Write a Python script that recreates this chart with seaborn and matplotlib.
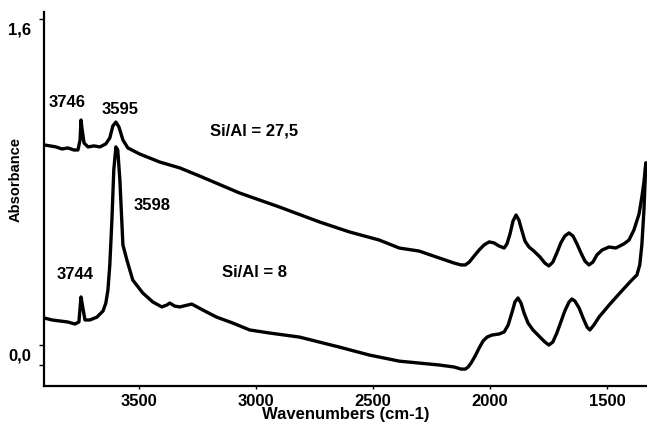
import numpy as np
import pandas as pd
import matplotlib
matplotlib.use("Agg")
import matplotlib.pyplot as plt
import matplotlib.transforms as mtransforms
import seaborn as sns

# ---- data ----
wn_high = [3905, 3879, 3854, 3828, 3803, 3777, 3760, 3751, 3747, 3743, 3734, 3717,
           3692, 3666, 3641, 3624, 3611, 3598, 3585, 3568, 3547, 3518, 3496, 3411, 3325,
           3240, 3070, 2899, 2729, 2601, 2473, 2388, 2303, 2217, 2153, 2124, 2106, 2089,
           2068, 2047, 2026, 2004, 1983, 1962, 1940, 1928, 1915, 1902, 1889, 1877, 1864,
           1851, 1834, 1813, 1787, 1766, 1749, 1732, 1715, 1698, 1681, 1663, 1646, 1629,
           1612, 1595, 1578, 1561, 1544, 1522, 1492, 1463, 1429, 1407, 1386, 1364, 1352,
           1343, 1335]
abs_high = [0.982, 0.977, 0.972, 0.962, 0.967, 0.957, 0.957, 1.006, 1.104, 1.065, 0.991, 0.972,
            0.977, 0.972, 0.987, 1.016, 1.075, 1.094, 1.070, 1.006, 0.967, 0.950, 0.937, 0.898, 0.869,
            0.829, 0.746, 0.677, 0.604, 0.555, 0.515, 0.476, 0.461, 0.427, 0.402, 0.393, 0.393, 0.407,
            0.437, 0.466, 0.491, 0.506, 0.501, 0.486, 0.476, 0.496, 0.545, 0.609, 0.638, 0.613, 0.560,
            0.510, 0.481, 0.461, 0.432, 0.402, 0.388, 0.407, 0.452, 0.501, 0.535, 0.550, 0.535, 0.496,
            0.452, 0.412, 0.393, 0.407, 0.442, 0.466, 0.481, 0.476, 0.496, 0.515, 0.564, 0.643, 0.726,
            0.800, 0.893]

wn_low = [3905, 3871, 3837, 3803, 3773, 3756, 3747, 3739, 3730, 3709, 3679, 3653,
          3641, 3632, 3624, 3615, 3607, 3598, 3590, 3581, 3568, 3551, 3526, 3483,
          3440, 3402, 3381, 3368, 3347, 3325, 3274, 3227, 3168, 3099, 3027, 2942,
          2814, 2644, 2516, 2388, 2217, 2153, 2124, 2106, 2094, 2081, 2064, 2047,
          2030, 2013, 1992, 1962, 1940, 1923, 1906, 1894, 1881, 1868, 1855, 1838,
          1817, 1787, 1766, 1749, 1732, 1715, 1698, 1681, 1663, 1651, 1638, 1620,
          1603, 1586, 1574, 1557, 1535, 1492, 1450, 1399, 1373, 1361, 1352, 1343, 1335]
abs_low = [0.133, 0.123, 0.118, 0.113, 0.103, 0.113, 0.236, 0.182, 0.123, 0.123, 0.137, 0.167,
           0.206, 0.270, 0.393, 0.614, 0.859, 0.972, 0.957, 0.810, 0.491, 0.417, 0.319, 0.255,
           0.211, 0.187, 0.196, 0.206, 0.191, 0.187, 0.201, 0.172, 0.137, 0.108, 0.074, 0.059,
           0.039, -0.010, -0.049, -0.079, -0.098, -0.108, -0.118, -0.118, -0.108, -0.088, -0.054, -0.015,
           0.020, 0.039, 0.049, 0.054, 0.064, 0.098, 0.162, 0.211, 0.231, 0.206, 0.157, 0.108,
           0.074, 0.039, 0.015, 0.000, 0.015, 0.059, 0.113, 0.167, 0.211, 0.226, 0.216, 0.182,
           0.133, 0.088, 0.074, 0.098, 0.137, 0.196, 0.250, 0.314, 0.344, 0.393, 0.491, 0.663, 0.893]

series_names = ["Si/Al = 27,5", "Si/Al = 8"]
peak_labels = ["3746", "3595", "3598", "3744"]
y_tick_values = [0.0, 1.6]
y_tick_labels = ["0,0", "1,6"]
x_tick_values = [3500, 3000, 2500, 2000, 1500]

df = pd.concat([
    pd.DataFrame({"wn": wn_high, "A": abs_high, "sample": series_names[0]}),
    pd.DataFrame({"wn": wn_low, "A": abs_low, "sample": series_names[1]}),
], ignore_index=True)

sns.set_style("ticks")
plt.rcParams["font.family"] = ["Liberation Sans", "DejaVu Sans"]
plt.rcParams["font.weight"] = "bold"

fig = plt.figure(figsize=(6.47, 4.23), dpi=100)
ax = fig.add_axes([44 / 647, 1 - 386 / 423, (647 - 44) / 647, (386 - 12) / 423])

sns.lineplot(data=df, x="wn", y="A", hue="sample", units="sample", estimator=None,
             palette=["black", "black"], linewidth=2.4, legend=False, ax=ax,
             solid_joinstyle="round", solid_capstyle="round")

ax.set_xlim(3905, 1330)
ax.set_ylim(-0.201, 1.634)

for s in ["top", "right"]:
    ax.spines[s].set_visible(False)
for s in ["left", "bottom"]:
    ax.spines[s].set_linewidth(1.6)
    ax.spines[s].set_color("black")

ax.set_xticks(x_tick_values)
ax.set_xticklabels([str(v) for v in x_tick_values], fontsize=12, fontweight="bold")
ax.set_yticks(y_tick_values + [-0.1])
ax.set_yticklabels(y_tick_labels + [""], fontsize=12, fontweight="bold")
ax.tick_params(axis="x", length=2.5, width=1, pad=3, colors="black")
ax.tick_params(axis="y", length=3.5, width=1, pad=6, colors="black")

offset = mtransforms.ScaledTranslation(0, -0.095, fig.dpi_scale_trans)
for lab in ax.get_yticklabels():
    lab.set_transform(lab.get_transform() + offset)

ax.set_xlabel("Wavenumbers (cm-1)", fontsize=12, fontweight="bold", labelpad=-1, color="black")
ax.set_ylabel("Absorbance", fontsize=10.5, fontweight="bold", color="black")
ax.yaxis.set_label_coords(-0.035, 0.551)

tkw = dict(fontsize=12, fontweight="bold", color="black")
ax.text(3807, 1.188, peak_labels[0], ha="center", va="center", **tkw)
ax.text(3581, 1.158, peak_labels[1], ha="center", va="center", **tkw)
ax.text(3445, 0.687, peak_labels[2], ha="center", va="center", **tkw)
ax.text(3773, 0.344, peak_labels[3], ha="center", va="center", **tkw)
ax.text(3197, 1.050, series_names[0], ha="left", va="center", **tkw)
ax.text(3146, 0.358, series_names[1], ha="left", va="center", **tkw)

fig.savefig("out.png", dpi=100)
